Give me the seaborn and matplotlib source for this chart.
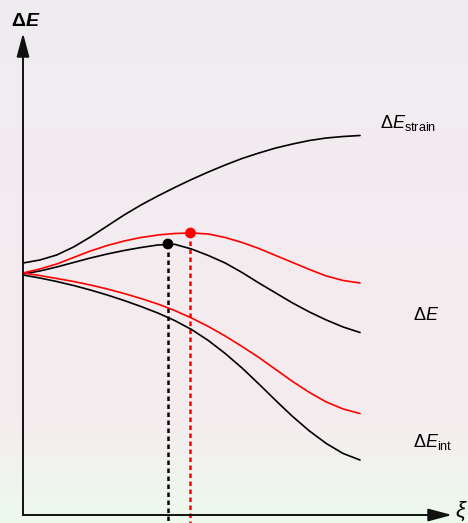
import numpy as np
import pandas as pd
import matplotlib
matplotlib.use("Agg")
import matplotlib.pyplot as plt
import seaborn as sns

sns.set_theme(style="white")
plt.rcParams["font.family"] = ["Liberation Sans", "DejaVu Sans"]
plt.rcParams["mathtext.fontset"] = "custom"
plt.rcParams["mathtext.rm"] = "Liberation Sans"
plt.rcParams["mathtext.it"] = "Liberation Sans:italic"
plt.rcParams["mathtext.bf"] = "Liberation Sans:bold"
plt.rcParams["mathtext.bfit"] = "Liberation Sans:italic:bold"

# reaction coordinate xi (0 = reactants, 1 = end of the profile)
xi = [0.00, 0.05, 0.10, 0.15, 0.20, 0.25, 0.30, 0.35, 0.40, 0.45, 0.50,
      0.55, 0.60, 0.65, 0.70, 0.75, 0.80, 0.85, 0.90, 0.95, 1.00]

# strain energy (shared by both systems)
e_strain = [0.11, 0.14, 0.19, 0.27, 0.37, 0.48, 0.59, 0.69, 0.78, 0.865, 0.945,
            1.02, 1.09, 1.155, 1.21, 1.26, 1.30, 1.335, 1.36, 1.375, 1.385]

# total energy, system A (black) and system B (red)
e_total_a = [0.00, 0.03, 0.07, 0.115, 0.16, 0.20, 0.235, 0.265, 0.29, 0.297, 0.25,
             0.185, 0.11, 0.015, -0.09, -0.19, -0.29, -0.38, -0.46, -0.53, -0.585]
e_total_b = [0.01, 0.05, 0.10, 0.165, 0.23, 0.285, 0.33, 0.365, 0.39, 0.405, 0.41,
             0.40, 0.365, 0.315, 0.255, 0.185, 0.115, 0.045, -0.02, -0.065, -0.09]

# interaction energy, system A (black) and system B (red)
e_int_a = [-0.01, -0.04, -0.075, -0.115, -0.16, -0.21, -0.265, -0.325, -0.39, -0.465, -0.555,
           -0.665, -0.795, -0.94, -1.10, -1.265, -1.425, -1.57, -1.695, -1.795, -1.86]
e_int_b = [0.01, -0.015, -0.045, -0.075, -0.11, -0.15, -0.195, -0.245, -0.30, -0.365, -0.44,
           -0.525, -0.62, -0.725, -0.835, -0.955, -1.075, -1.185, -1.28, -1.35, -1.395]

# transition states (position of the maxima of the total energy)
ts_xi = [0.43, 0.497]
ts_e = [0.30, 0.41]
ts_system = ["A", "B"]

curves = pd.DataFrame({
    "xi": xi * 5,
    "E": e_strain + e_total_a + e_total_b + e_int_a + e_int_b,
    "curve": (["strain"] * len(xi) + ["total_a"] * len(xi) + ["total_b"] * len(xi)
              + ["int_a"] * len(xi) + ["int_b"] * len(xi)),
})
palette = {"strain": "black", "total_a": "black", "total_b": "#ff0000",
           "int_a": "black", "int_b": "#ff0000"}
ts = pd.DataFrame({"xi": ts_xi, "E": ts_e, "system": ts_system})
ts_palette = {"A": "black", "B": "#ff0000"}

W, H = 468, 523
fig = plt.figure(figsize=(W / 100, H / 100), dpi=100)
ax = fig.add_axes([0, 0, 1, 1])
x_lo, x_hi = -23 / 337, 445 / 337
y_lo, y_hi = -2.49, 2.74
ax.set_xlim(x_lo, x_hi)
ax.set_ylim(y_lo, y_hi)
ax.set_axis_off()

# soft vertical background gradient
rows = np.linspace(0, 1, 256)
stops = np.array([0.0, 0.48, 0.80, 0.90, 1.0])
cols = np.array([[239, 237, 241], [243, 235, 239], [245, 236, 238],
                 [241, 243, 239], [236, 250, 236]]) / 255
grad = np.stack([np.interp(rows, stops, cols[:, k]) for k in range(3)], axis=-1)
grad = np.repeat(grad[:, None, :], 4, axis=1)
ax.imshow(grad, extent=[x_lo, x_hi, y_lo, y_hi], aspect="auto",
          origin="upper", zorder=0)

# energy curves
sns.lineplot(data=curves, x="xi", y="E", hue="curve", palette=palette,
             estimator=None, sort=False, linewidth=1.2, legend=False,
             ax=ax, zorder=3)

# dotted drop lines from the maxima to the axis
for (x0, e0, s) in zip(ts_xi, ts_e, ts_system):
    ax.plot([x0, x0], [e0, y_lo], color=ts_palette[s], lw=1.8,
            linestyle=(0, (1.8, 1.4)), zorder=2)

sns.scatterplot(data=ts, x="xi", y="E", hue="system", palette=ts_palette,
                s=60, linewidth=0, legend=False, ax=ax, zorder=5)

# axes with arrow heads
y_axis = -2.41
arrow_kw = dict(arrowstyle="-|>,head_length=1.2,head_width=0.32",
                color="#111111", lw=1.4, shrinkA=0, shrinkB=0)
ax.annotate("", xy=(0, 2.41), xytext=(0, y_axis), arrowprops=arrow_kw, zorder=4)
ax.annotate("", xy=(1.273, y_axis), xytext=(0, y_axis), arrowprops=arrow_kw, zorder=4)

# labels
ax.text(0.009, 2.52, r"$\mathbf{\Delta}\mathbfit{E}$", fontsize=14,
        ha="center", va="center", color="black")
ax.text(1.059, 1.46, r"$\Delta E_{\mathrm{strain}}$", fontsize=13,
        ha="left", va="baseline", color="black")
ax.text(1.157, -0.46, r"$\Delta E$", fontsize=13,
        ha="left", va="baseline", color="black")
ax.text(1.157, -1.73, r"$\Delta E_{\mathrm{int}}$", fontsize=13,
        ha="left", va="baseline", color="black")
ax.text(1.281, -2.37, r"$\xi$", fontsize=16,
        ha="left", va="center", color="black")

fig.savefig("out.png", dpi=100)
